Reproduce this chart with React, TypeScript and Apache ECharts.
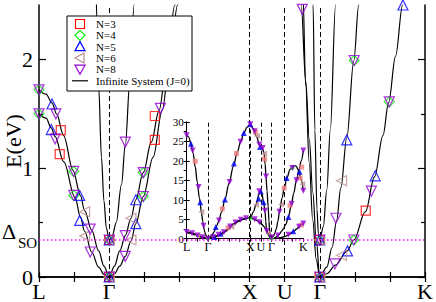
import React, { useEffect, useRef } from "react";
import * as echarts from "echarts";

// High-symmetry points along the k-path
const kPoints = [0, 2, 6, 7, 8, 11];
const kLabels = ["L", "Γ", "X", "U", "Γ", "K"];
const deltaSO = 0.34;
const mainYTickValues = [0, 1, 2];
const insetYTicks = [0, 5, 10, 15, 20, 25, 30];
const legendNames = ["N=3", "N=4", "N=5", "N=6", "N=8", "Infinite System (J=0)"];

// Infinite system (J=0) bands, [k, E]
const hhBand = [
  [0, 1.5], [0.2, 1.46], [0.35, 1.37], [0.46, 1.29], [0.7, 1.06], [1.03, 0.73], [1.18, 0.55], [1.3, 0.42], [1.5, 0.23], [1.7, 0.09], [1.85, 0.025], [2, 0],
  [2.15, 0.03], [2.3, 0.1], [2.46, 0.19], [2.62, 0.33], [2.76, 0.49], [2.97, 0.74], [3.25, 1.1], [3.51, 1.53], [3.72, 1.98], [3.95, 2.5], [4.2, 3.15], [4.5, 3.8], [4.9, 4.45], [5.3, 4.95], [5.65, 5.25], [6, 5.35],
  [6.3, 5.1], [6.6, 4.7], [6.9, 4.15], [7.1, 3.65], [7.3, 3.1], [7.47, 2.5], [7.6, 1.8], [7.7, 1.27], [7.8, 0.78], [7.9, 0.34], [8, 0],
  [8.2, 0.03], [8.45, 0.11], [8.78, 0.24], [8.97, 0.34], [9.3, 0.6], [9.56, 0.92], [9.8, 1.3], [9.96, 1.6], [10.16, 2.03], [10.36, 2.5], [10.6, 3.05], [10.8, 3.5], [11, 3.9],
];
const lhBand = [
  [0, 1.72], [0.2, 1.68], [0.37, 1.6], [0.5, 1.5], [0.7, 1.3], [0.97, 0.98], [1.18, 0.75], [1.3, 0.61], [1.5, 0.43], [1.7, 0.24], [1.85, 0.1], [2, 0],
  [2.15, 0.1], [2.3, 0.24], [2.46, 0.38], [2.62, 0.54], [2.76, 0.71], [2.97, 0.96], [3.2, 1.24], [3.42, 1.53], [3.64, 1.95], [3.87, 2.5], [4.1, 3.15], [4.4, 3.8], [4.8, 4.5], [5.2, 4.98], [5.6, 5.25], [6, 5.35],
  [6.3, 6.9], [6.55, 8.9], [6.8, 11.3], [6.95, 12.5], [7.1, 11.6], [7.25, 9.4], [7.4, 6.8], [7.46, 4.4], [7.52, 2.6], [7.6, 1.75], [7.7, 1.05], [7.8, 0.52], [7.9, 0.16], [8, 0],
  [8.2, 0.09], [8.35, 0.27], [8.48, 0.52], [8.6, 0.82], [8.77, 1.28], [8.97, 1.99], [9.11, 2.5], [9.35, 3.7], [9.6, 5.6], [9.85, 8.4], [10.1, 11.7], [10.35, 15], [10.6, 17.8], [10.8, 20], [11, 22.7],
];
const soBand = [
  [0, 26.7], [0.2, 26.1], [0.4, 24.5], [0.6, 22], [0.8, 18.5], [1.0, 14.5], [1.2, 10.4], [1.4, 6.6], [1.52, 4.4], [1.6, 3.1], [1.65, 2.35], [1.7, 1.75], [1.78, 1.1], [1.85, 0.7], [1.92, 0.45], [2, 0.34],
  [2.08, 0.37], [2.2, 0.5], [2.35, 0.85], [2.46, 1.22], [2.59, 1.8], [2.71, 2.5], [2.85, 3.4], [3.0, 4.4], [3.3, 6.9], [3.6, 10], [4.0, 14.3], [4.4, 18.6], [4.8, 22.5], [5.1, 25.1], [5.4, 27.2], [5.7, 28.7], [6, 29.4],
  [6.3, 28.2], [6.6, 26.2], [6.85, 24.2], [7.0, 23.6], [7.15, 23.2], [7.3, 21.9], [7.4, 19.2], [7.48, 16], [7.58, 12.3], [7.68, 8.4], [7.76, 4.6], [7.81, 2.5], [7.86, 1.35], [7.92, 0.62], [7.96, 0.4], [8, 0.34],
  [8.1, 0.46], [8.2, 0.8], [8.3, 1.35], [8.45, 2.5], [8.6, 4.4], [8.75, 6.9], [9.0, 10.5], [9.2, 13], [9.45, 15.6], [9.75, 17.8], [10.05, 18.8], [10.3, 18.7], [10.55, 17.6], [10.8, 15.2], [11, 12.3],
];

// Finite-size results, main panel
const n3Main = [[0.62, 1.35], [0.59, 1.13], [2, 0.34], [2, 0], [3.3, 1.48], [3.3, 1.26], [8, 0.34], [8, 0], [9.31, 0.61]];
const n4Main = [[0, 1.72], [0, 1.5], [0.99, 0.97], [0.99, 0.75], [2, 0.34], [2, 0], [2.97, 0.96], [2.97, 0.74], [8, 0.34], [8, 0], [8.97, 0.34], [8.98, 1.99], [9.98, 1.61]];
const n5Main = [[0.37, 1.59], [0.35, 1.355], [1.16, 0.75], [1.16, 0.52], [2, 0.34], [2, 0], [2.76, 0.71], [2.76, 0.49], [8, 0.34], [8, 0], [8.79, 0.24], [8.77, 1.26], [9.58, 0.93], [10.37, 2.5]];
const n6Main = [[1.3, 0.6], [1.3, 0.376], [2, 0.34], [2, 0], [2.62, 0.54], [2.62, 0.34], [8, 0.34], [8, 0], [8.62, 0.2], [8.62, 0.885]];
const n8Main = [[0, 1.72], [0, 1.5], [0.48, 1.5], [0.46, 1.27], [0.99, 0.97], [0.99, 0.75], [1.46, 0.44], [1.46, 0.23], [2, 0.34], [2, 0], [2.46, 1.24], [2.46, 0.38], [2.46, 0.19], [2.97, 0.96], [2.97, 0.74], [3.46, 1.55], [7.5, 2.46], [8, 0.34], [8, 0], [8.43, 0.12], [8.46, 0.54], [8.97, 0.34], [9.47, 0.79], [8.98, 1.99], [9.98, 1.61]];

// Finite-size results, inset
const n3Inset = [[0.81, 19.9], [3.36, 7.7], [4.7, 21.9], [6.5, 27.4], [7.35, 20.5], [9.2, 13], [9.75, 8.6], [10.85, 18.4], [10.7, 15.6], [3.9, 2.8], [10.8, 3.5]];
const n4Inset = [[2, 0], [6, 5.35], [8, 0], [9.98, 18.2]];
const n5Inset = [[0.4, 24.4], [1.28, 9.4], [2.74, 3], [3.61, 10.1], [4.45, 19.3], [5.39, 27.2], [6.0, 29.4], [6.92, 23.6], [6.98, 12.2], [6.79, 10.3], [9.43, 15.6], [9.6, 5.6], [10.65, 17.2], [10.05, 1.9], [2.6, 0.45], [3.2, 1.25], [7.25, 9.4]];
const n6Inset = [[1.37, 6.9], [6.64, 26.4], [7.3, 21.9], [6.54, 8.7], [8.9, 8.8], [10.9, 14], [4.2, 3.1], [1.0, 0.85], [7.65, 1.4]];
const n8Inset = [[0, 26.6], [0.56, 22.7], [1.12, 13.3], [1.59, 3.3], [0, 1.72], [0.5, 1.4], [1.0, 0.85], [1.5, 0.35], [2, 0], [3.05, 4.7], [4.05, 14.6], [5.08, 24.9], [6, 29.4], [2.5, 0.4], [3.0, 1.0], [3.5, 1.65], [4.1, 3.15], [4.6, 4.15], [5.1, 4.85], [5.6, 5.25], [6.4, 27.6], [6.85, 24.2], [7.17, 23.3], [7.48, 16], [6.84, 12.2], [7.38, 7.2], [6.42, 5], [6.85, 4.2], [7.55, 2], [8, 0.34], [8.75, 6.9], [9.97, 18.2], [11, 12.3], [11, 22.7], [10.35, 15], [9.9, 9], [10.6, 3.05], [11, 3.9], [9.6, 1.0], [8.6, 0.8]];

const SERIF = "'Liberation Serif', 'Times New Roman', serif";
const C3 = "#ff0000";
const C4 = "#00ee00";
const C5 = "#0000ff";
const C6 = "#bc8f8f";
const C8 = "#9400d3";
const SYM_DOWN = "path://M0,0L10,0L5,8.66Z";
const SYM_LEFT = "path://M0,5L8.66,0L8.66,10Z";

export default function App() {
  const ref = useRef<HTMLDivElement>(null);
  useEffect(() => {
    if (!ref.current) return;
    const chart = echarts.init(ref.current, null, { renderer: "svg" });

    const bandLine = (data: number[][], xi: number, yi: number, width: number) => ({
      type: "line",
      name: legendNames[5],
      data,
      xAxisIndex: xi,
      yAxisIndex: yi,
      symbol: "none",
      smooth: 0.35,
      smoothMonotone: "x",
      silent: true,
      itemStyle: { color: "#000" },
      lineStyle: { color: "#000", width },
      z: 2,
    });
    const openMarks = (name: string, data: number[][], symbol: string, color: string, size: number, z: number) => ({
      type: "scatter",
      name,
      data,
      xAxisIndex: 0,
      yAxisIndex: 0,
      symbol,
      symbolSize: size,
      silent: true,
      itemStyle: { color: "none", borderColor: color, borderWidth: 1.2 },
      z,
    });
    const insetMarks = (name: string, data: number[][], symbol: string, color: string, size: number, z: number) => ({
      type: "scatter",
      name,
      data,
      xAxisIndex: 2,
      yAxisIndex: 4,
      symbol,
      symbolSize: size,
      silent: true,
      itemStyle: { color, borderWidth: 0 },
      z,
    });

    const dashedK = [2, 6, 7, 8].map((v) => ({ xAxis: v }));
    const mainMain = bandLine(hhBand, 0, 0, 1.2) as any;
    mainMain.markLine = {
      silent: true,
      symbol: ["none", "none"],
      label: { show: false },
      animation: false,
      lineStyle: { color: "#000", type: [5, 3], width: 1 },
      data: [
        ...dashedK,
        { yAxis: deltaSO, lineStyle: { color: "#ff00ff", type: [1.5, 2.5], width: 1.5 } },
      ],
    };
    const insetMain = bandLine(hhBand, 2, 4, 1.3) as any;
    insetMain.markLine = {
      silent: true,
      symbol: ["none", "none"],
      label: { show: false },
      animation: false,
      lineStyle: { color: "#000", type: [4, 3], width: 1 },
      data: dashedK,
    };

    const kFormatter = (v: number) => {
      const i = kPoints.indexOf(v);
      return i >= 0 ? kLabels[i] : "";
    };

    // legend drawn as graphic (box, symbols, texts)
    const lx = 80;
    const rows = [24, 35.3, 46.6, 57.9, 69.2, 80.8];
    const mk = (c: string) => ({ fill: "none", stroke: c, lineWidth: 1.2 });
    const legendGraphic: any[] = [
      { type: "rect", shape: { x: 67, y: 16, width: 125, height: 75 }, style: { fill: "#fff", stroke: "#000", lineWidth: 1 }, z: 100 },
      { type: "rect", shape: { x: lx - 4.5, y: rows[0] - 4.5, width: 9, height: 9 }, style: mk(C3), z: 101 },
      { type: "polygon", shape: { points: [[lx, rows[1] - 5], [lx + 5, rows[1]], [lx, rows[1] + 5], [lx - 5, rows[1]]] }, style: mk(C4), z: 101 },
      { type: "polygon", shape: { points: [[lx, rows[2] - 5], [lx + 5, rows[2] + 4], [lx - 5, rows[2] + 4]] }, style: mk(C5), z: 101 },
      { type: "polygon", shape: { points: [[lx - 5, rows[3]], [lx + 4, rows[3] - 5], [lx + 4, rows[3] + 5]] }, style: mk(C6), z: 101 },
      { type: "polygon", shape: { points: [[lx - 5, rows[4] - 4], [lx + 5, rows[4] - 4], [lx, rows[4] + 5]] }, style: mk(C8), z: 101 },
      { type: "line", shape: { x1: 72, y1: rows[5], x2: 88, y2: rows[5] }, style: { stroke: "#000", lineWidth: 1.2 }, z: 101 },
      ...legendNames.map((t, i) => ({
        type: "text", x: 96, y: rows[i], z: 101,
        style: { text: t, fontFamily: SERIF, fontSize: 11, fill: "#000", align: "left", verticalAlign: "middle" },
      })),
    ];

    const option: any = {
      animation: false,
      backgroundColor: "#fff",
      textStyle: { fontFamily: SERIF },
      grid: [
        { left: 39, top: 5, width: 389, height: 272 },
        { left: 186.7, top: 122, width: 116.6, height: 116.7 },
      ],
      xAxis: [
        {
          gridIndex: 0, type: "value", position: "bottom", min: 0, max: 11, interval: 1,
          axisLine: { lineStyle: { color: "#000", width: 1.5 } },
          axisTick: { inside: true, length: 5, lineStyle: { color: "#000", width: 1.2 } },
          axisLabel: { customValues: kPoints, formatter: kFormatter, fontFamily: SERIF, fontSize: 22, color: "#000", margin: 3 },
          splitLine: { show: false },
        },
        {
          gridIndex: 0, type: "value", position: "top", min: 0, max: 11, interval: 1,
          axisLine: { lineStyle: { color: "#000", width: 1.5 } },
          axisTick: { inside: true, length: 5, lineStyle: { color: "#000", width: 1.2 } },
          axisLabel: { show: false },
          splitLine: { show: false },
        },
        {
          gridIndex: 1, type: "value", position: "bottom", min: 0, max: 11, interval: 1,
          axisLine: { show: false },
          axisTick: { show: false },
          axisLabel: { customValues: kPoints, formatter: kFormatter, fontFamily: SERIF, fontSize: 12, color: "#000", margin: 2 },
          splitLine: { show: false },
        },
        {
          gridIndex: 1, type: "value", position: "top", min: 0, max: 11, interval: 1,
          axisLine: { lineStyle: { color: "#000", width: 1 } },
          axisTick: { inside: true, length: 3, lineStyle: { color: "#000", width: 1 } },
          axisLabel: { show: false },
          splitLine: { show: false },
        },
      ],
      yAxis: [
        {
          gridIndex: 0, type: "value", position: "left", min: 0, max: 2.5,
          axisLine: { lineStyle: { color: "#000", width: 1.5 } },
          axisTick: { inside: true, length: 7, customValues: mainYTickValues, lineStyle: { color: "#000", width: 1.2 } },
          axisLabel: { customValues: mainYTickValues, fontFamily: SERIF, fontSize: 22, color: "#000", margin: 6 },
          splitLine: { show: false },
        },
        {
          gridIndex: 0, type: "value", position: "left", min: 0, max: 2.5,
          axisLine: { show: false },
          axisTick: { inside: true, length: 4, customValues: [0.5, 1.5], lineStyle: { color: "#000", width: 1.2 } },
          axisLabel: { show: false },
          splitLine: { show: false },
        },
        {
          gridIndex: 0, type: "value", position: "right", min: 0, max: 2.5,
          axisLine: { lineStyle: { color: "#000", width: 1.5 } },
          axisTick: { inside: true, length: 7, customValues: mainYTickValues, lineStyle: { color: "#000", width: 1.2 } },
          axisLabel: { show: false },
          splitLine: { show: false },
        },
        {
          gridIndex: 0, type: "value", position: "right", min: 0, max: 2.5,
          axisLine: { show: false },
          axisTick: { inside: true, length: 4, customValues: [0.5, 1.5], lineStyle: { color: "#000", width: 1.2 } },
          axisLabel: { show: false },
          splitLine: { show: false },
        },
        {
          gridIndex: 1, type: "value", position: "left", min: 0, max: 30, interval: 5,
          axisLine: { lineStyle: { color: "#000", width: 1 } },
          axisTick: { inside: true, length: 3, lineStyle: { color: "#000", width: 1 } },
          axisLabel: { customValues: insetYTicks, fontFamily: SERIF, fontSize: 11, color: "#000", margin: 3 },
          splitLine: { show: false },
        },
        {
          gridIndex: 1, type: "value", position: "right", min: 0, max: 30, interval: 2.5,
          axisLine: { lineStyle: { color: "#000", width: 1 } },
          axisTick: { inside: true, length: 3, lineStyle: { color: "#000", width: 1 } },
          axisLabel: { show: false },
          splitLine: { show: false },
        },
      ],
      series: [
        mainMain,
        bandLine(lhBand, 0, 0, 1.2),
        bandLine(soBand, 0, 0, 1.2),
        insetMain,
        bandLine(lhBand, 2, 4, 1.3),
        bandLine(soBand, 2, 4, 1.3),
        openMarks(legendNames[0], n3Main, "rect", C3, 9, 5),
        openMarks(legendNames[1], n4Main, "diamond", C4, 10, 4),
        openMarks(legendNames[2], n5Main, "triangle", C5, 10, 6),
        openMarks(legendNames[3], n6Main, SYM_LEFT, C6, 10, 7),
        openMarks(legendNames[4], n8Main, SYM_DOWN, C8, 10, 8),
        insetMarks(legendNames[0], n3Inset, "rect", "#f08080", 5, 5),
        insetMarks(legendNames[1], n4Inset, "diamond", C4, 5, 4),
        insetMarks(legendNames[2], n5Inset, "triangle", C5, 6, 6),
        insetMarks(legendNames[3], n6Inset, SYM_LEFT, C6, 6, 7),
        insetMarks(legendNames[4], n8Inset, SYM_DOWN, C8, 6, 8),
      ],
      graphic: [
        {
          type: "text", x: 13, y: 141, rotation: Math.PI / 2, silent: true,
          style: { text: "E(eV)", fontFamily: SERIF, fontSize: 22, fill: "#000", align: "center", verticalAlign: "middle" },
        },
        {
          type: "text", x: 2, y: 231, silent: true,
          style: { text: "Δ", fontFamily: SERIF, fontSize: 22, fill: "#000", align: "left", verticalAlign: "middle" },
        },
        {
          type: "text", x: 18, y: 243, silent: true,
          style: { text: "SO", fontFamily: SERIF, fontSize: 15, fill: "#000", align: "left", verticalAlign: "middle" },
        },
        ...legendGraphic,
      ],
    };
    chart.setOption(option);
    return () => chart.dispose();
  }, []);
  return <div ref={ref} style={{ position: "fixed", left: 0, top: 0, width: 436, height: 302 }} />;
}
